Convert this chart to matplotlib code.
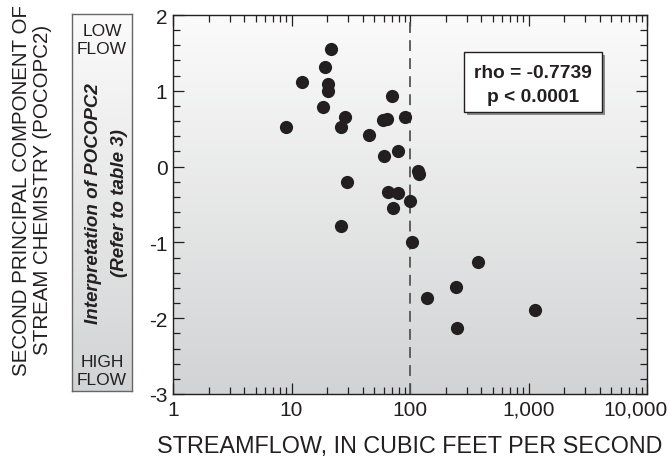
import numpy as np
import matplotlib
matplotlib.use("Agg")
import matplotlib.pyplot as plt
from matplotlib.patches import Rectangle
from matplotlib.transforms import ScaledTranslation
from matplotlib.ticker import LogLocator, MultipleLocator, FuncFormatter

plt.rcParams['font.family'] = ['Liberation Sans', 'DejaVu Sans']
plt.rcParams['axes.unicode_minus'] = False

# streamflow (cfs) and POCOPC2 score
flow = [9.0, 12.2, 21.7, 19.2, 20.3, 20.4, 18.4, 28.5, 26.3, 45.1,
        70.5, 59.2, 63.6, 90.7, 60.4, 79.6, 29.4, 64.8, 78.7, 100.6,
        117.5, 119.1, 72.3, 26.2, 103.3, 377.0, 244.0, 139.0, 1128.0, 251.0]
pc2 = [0.52, 1.12, 1.555, 1.31, 1.086, 0.993, 0.782, 0.658, 0.518, 0.413,
       0.931, 0.611, 0.628, 0.654, 0.136, 0.21, -0.199, -0.331, -0.348, -0.45,
       -0.058, -0.094, -0.55, -0.784, -0.999, -1.263, -1.588, -1.73, -1.888, -2.129]
rho_txt = "rho = -0.7739"
p_txt = "p < 0.0001"

W, H = 670, 464
fig = plt.figure(figsize=(6.7, 4.64), dpi=100)
ax = fig.add_axes([173 / W, 1 - 395 / H, 474 / W, 379 / H])

grad = np.linspace(0, 1, 256).reshape(-1, 1)
cmap = matplotlib.colors.LinearSegmentedColormap.from_list("g", ["#fbfbfb", "#d2d3d4"])
ax.imshow(grad, extent=[0, 1, 0, 1], transform=ax.transAxes, aspect="auto",
          cmap=cmap, zorder=0)

ax.set_xscale("log")
ax.set_xlim(1, 10000)
ax.set_ylim(-3, 2)
ax.axvline(100, color="#555555", lw=1.3, ls=(0, (6, 4)), zorder=2)
ax.plot(flow, pc2, "o", color="#231f20", ms=9.5, mec="none", zorder=3)

ax.xaxis.set_major_locator(LogLocator(10))
ax.xaxis.set_minor_locator(LogLocator(10, subs=np.arange(2, 10)))
ax.xaxis.set_major_formatter(FuncFormatter(lambda v, p: f"{v:,.0f}"))
ax.yaxis.set_major_locator(MultipleLocator(1))
ax.yaxis.set_minor_locator(MultipleLocator(0.2))
ax.tick_params(which="both", direction="in", top=True, right=True,
               colors="#231f20", labelsize=15, width=0.9)
ax.tick_params(which="major", length=8, pad=4)
ax.tick_params(which="minor", length=5)
for s in ax.spines.values():
    s.set_color("#231f20")
    s.set_linewidth(1.0)

# keep "10,000" inside the figure, as in the original
fig.canvas.draw()
for tick in ax.xaxis.get_major_ticks():
    if abs(tick.get_loc() - 10000) < 1:
        lab = tick.label1
        lab.set_horizontalalignment("right")
        lab.set_transform(lab.get_transform() + ScaledTranslation(0.21, 0, fig.dpi_scale_trans))

ax.set_xlabel("STREAMFLOW, IN CUBIC FEET PER SECOND", fontsize=16.8,
              color="#231f20", labelpad=11)
fig.text(32 / W, 1 - 190 / H, "SECOND PRINCIPAL COMPONENT OF\nSTREAM CHEMISTRY (POCOPC2)",
         rotation=90, ha="center", va="center", fontsize=14.8, color="#231f20",
         linespacing=1.1, multialignment="center")

# rho box with shadow
x0, x1 = (464 - 173) / 474, (602 - 173) / 474
y1, y0 = 1 - (53 - 16) / 379, 1 - (113 - 16) / 379
ax.add_patch(Rectangle((x0 + 0.007, y0 - 0.009), x1 - x0, y1 - y0, transform=ax.transAxes,
                       fc="#8a8a8a", ec="none", zorder=4))
ax.add_patch(Rectangle((x0, y0), x1 - x0, y1 - y0, transform=ax.transAxes,
                       fc="white", ec="#231f20", lw=1.0, zorder=5))
ax.text((x0 + x1) / 2, 1 - (73 - 16) / 379, rho_txt, transform=ax.transAxes,
        ha="center", va="center", fontsize=13.8, fontweight="bold", color="#231f20", zorder=6)
ax.text((x0 + x1) / 2, 1 - (97 - 16) / 379, p_txt, transform=ax.transAxes,
        ha="center", va="center", fontsize=13.8, fontweight="bold", color="#231f20", zorder=6)

# side panel
side = fig.add_axes([72 / W, 1 - 392 / H, 60 / W, 377 / H])
side.imshow(grad, extent=[0, 1, 0, 1], transform=side.transAxes, aspect="auto",
            cmap=cmap, zorder=0)
side.set_xlim(0, 1)
side.set_ylim(0, 1)
side.set_xticks([])
side.set_yticks([])
for s in side.spines.values():
    s.set_color("#666666")
    s.set_linewidth(1.0)
side.text(0.5, 0.975, "LOW\nFLOW", ha="center", va="top", fontsize=12.5, color="#231f20",
          linespacing=1.25, fontstretch="condensed", transform=side.transAxes)
side.text(0.5, 0.01, "HIGH\nFLOW", ha="center", va="bottom", fontsize=12.5, color="#231f20",
          linespacing=1.25, fontstretch="condensed", transform=side.transAxes)
side.text(0.36, 0.5, "Interpretation of POCOPC2", rotation=90, ha="center", va="center",
          fontsize=13.5, fontweight="bold", style="italic", color="#231f20",
          fontstretch="condensed", transform=side.transAxes)
side.text(0.80, 0.5, "(Refer to table 3)", rotation=90, ha="center", va="center",
          fontsize=13.5, fontweight="bold", style="italic", color="#231f20",
          fontstretch="condensed", transform=side.transAxes)

fig.savefig("out.png", dpi=100)
